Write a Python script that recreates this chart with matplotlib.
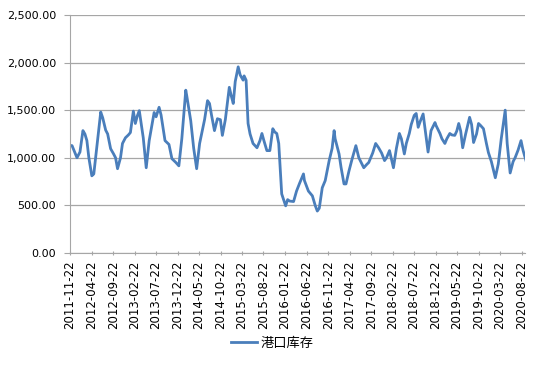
import pandas as pd
import matplotlib.pyplot as plt
import matplotlib.ticker as mticker

plt.rcParams['font.family'] = ['Noto Sans CJK SC', 'DejaVu Sans']

# weeks after 2011-11-22
weeks = [0, 2, 5, 7, 10, 13, 15, 17, 19, 22, 24, 28, 31, 33, 36, 38, 41, 44, 46, 48,
         51, 53, 56, 59, 61, 64, 66, 68, 70, 74, 77, 80, 85, 87, 90, 92, 96, 100, 103, 107,
         110, 113, 117, 118, 122, 125, 128, 131, 136, 139, 141, 143, 146, 149, 152, 154, 157, 161, 163, 165,
         167, 170, 172, 175, 176, 178, 180, 182, 185, 189, 192, 194, 196, 199, 202, 205, 207, 209, 211, 214,
         218, 220, 222, 226, 229, 232, 236, 237, 241, 245, 248, 250, 252, 255, 258, 262, 265, 267, 268, 272,
         274, 277, 279, 282, 285, 289, 292, 297, 300, 302, 306, 309, 312, 315, 318, 320, 323, 327, 330, 333,
         335, 338, 340, 343, 345, 348, 350, 352, 354, 357, 359, 362, 365, 369, 370, 374, 376, 379, 381, 384,
         386, 389, 391, 393, 395, 397, 400, 404, 406, 408, 411, 413, 415, 418, 421, 423, 426, 430, 433, 436,
         440, 442, 445, 448, 450, 453, 456, 458, 461]
stock = [1130, 1127, 1050, 1000, 1060, 1285, 1250, 1180, 1000, 810, 830, 1200, 1480, 1420, 1290, 1250, 1095, 1040, 1000, 885,
         1000, 1150, 1210, 1240, 1265, 1490, 1360, 1440, 1495, 1210, 895, 1180, 1475, 1430, 1530, 1450, 1180, 1140, 990, 950,
         915, 1200, 1710, 1650, 1390, 1100, 885, 1150, 1400, 1600, 1570, 1450, 1285, 1410, 1400, 1235, 1400, 1740, 1650, 1570,
         1800, 1955, 1870, 1815, 1860, 1815, 1360, 1250, 1150, 1105, 1180, 1255, 1180, 1075, 1075, 1305, 1270, 1255, 1150, 620,
         495, 560, 545, 540, 650, 730, 830, 760, 650, 600, 495, 440, 470, 685, 760, 970, 1100, 1285, 1200, 1040,
         900, 725, 725, 860, 980, 1127, 1000, 895, 930, 950, 1050, 1150, 1105, 1050, 970, 1000, 1075, 895, 1100, 1255,
         1200, 1040, 1150, 1255, 1350, 1445, 1465, 1320, 1380, 1460, 1300, 1060, 1285, 1370, 1340, 1255, 1200, 1150, 1200, 1255,
         1240, 1235, 1280, 1360, 1280, 1105, 1250, 1425, 1350, 1160, 1250, 1360, 1340, 1305, 1150, 1055, 960, 790, 935, 1200,
         1500, 1150, 840, 960, 1000, 1080, 1180, 1080, 970]

tick_labels = ['2011-11-22', '2012-04-22', '2012-09-22', '2013-02-22', '2013-07-22',
               '2013-12-22', '2014-05-22', '2014-10-22', '2015-03-22', '2015-08-22',
               '2016-01-22', '2016-06-22', '2016-11-22', '2017-04-22', '2017-09-22',
               '2018-02-22', '2018-07-22', '2018-12-22', '2019-05-22', '2019-10-22',
               '2020-03-22', '2020-08-22']

dates = pd.Timestamp('2011-11-22') + pd.to_timedelta([w * 7 for w in weeks], unit='D')

fig = plt.figure(figsize=(5.39, 3.65), dpi=100)
ax = fig.add_axes([0.13, 0.307, 0.844, 0.652])

ax.plot(dates, stock, color='#4A7EBB', linewidth=2.0, label='港口库存')

ax.set_ylim(0, 2500)
ax.set_yticks(range(0, 2501, 500))
ax.yaxis.set_major_formatter(mticker.FuncFormatter(lambda v, p: '{:,.2f}'.format(v)))
ax.set_xlim(pd.Timestamp('2011-11-22'), pd.Timestamp('2020-09-15'))
ax.set_xticks(pd.to_datetime(tick_labels))
ax.set_xticklabels(tick_labels, rotation=90, family=['DejaVu Sans'])
for lbl in ax.get_yticklabels():
    lbl.set_family(['DejaVu Sans'])

ax.grid(axis='y', color='#A6A6A6', linewidth=0.9)
ax.set_axisbelow(True)
for s in ['top', 'right']:
    ax.spines[s].set_visible(False)
for s in ['left', 'bottom']:
    ax.spines[s].set_color('#A6A6A6')
ax.tick_params(axis='y', colors='#A6A6A6', labelcolor='black', labelsize=8, length=4, pad=6)
ax.tick_params(axis='x', colors='#A6A6A6', labelcolor='black', labelsize=8.5, length=3, direction='inout', pad=4)

fig.legend(loc='center', bbox_to_anchor=(0.505, 1 - 343 / 365), frameon=False, fontsize=9.5,
           handlelength=2.0, handletextpad=0.3)

plt.savefig('out.png', dpi=100)
